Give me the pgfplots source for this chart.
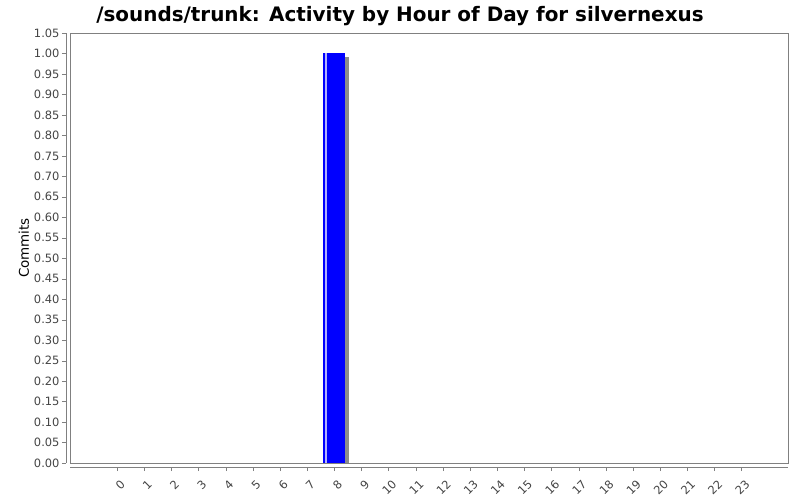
\documentclass[border=0pt]{standalone}
\usepackage{fontspec}
\setmainfont{DejaVu Sans}
\usepackage{pgfplots}
\pgfplotsset{compat=1.18}
\definecolor{axgray}{RGB}{128,128,128}
\definecolor{shadowgray}{RGB}{140,140,140}
\definecolor{txt}{RGB}{68,68,68}
\begin{document}
\begin{tikzpicture}
\useasboundingbox (-70bp,-37bp) rectangle (730bp,463bp);
\begin{axis}[
  name=ax,
  at={(0,0)}, anchor=south west,
  scale only axis,
  width=718bp, height=430bp,
  xmin=-1.73, xmax=24.71,
  ymin=0, ymax=1.05,
  axis line style={axgray},
  xtick={0,...,23},
  ytick={0,0.05,...,1.051},
  tick align=outside,
  major tick length=4bp,
  xtick pos=bottom, ytick pos=left,
  xtick style={axgray, yshift=-4bp},
  ytick style={axgray, xshift=-4bp},
  yticklabel style={font=\fontsize{11.5}{12}\selectfont, text=txt, xshift=-3bp},
  xticklabel style={font=\fontsize{11.5}{12}\selectfont, text=txt, rotate=45, anchor=north east, yshift=-7bp, xshift=-3bp},
  /pgf/number format/assume math mode=true,
  yticklabel={\pgfmathprintnumber[fixed,fixed zerofill,precision=2]{\tick}},
  ylabel={Commits},
  ylabel style={font=\fontsize{13.5}{14}\selectfont, text=black, xshift=0bp, yshift=-2bp},
  title={/sounds/trunk: Activity by Hour of Day for silvernexus},
  title style={font=\bfseries\fontsize{20}{21}\selectfont, xshift=-29bp, yshift=-2bp},
  clip=true,
]
\addplot[ybar, bar width=0.81, bar shift=0.147, fill=shadowgray, draw=none] coordinates {(8,0.991)};
\addplot[ybar, bar width=0.81, bar shift=0, fill=blue, draw=none] coordinates {(8,1)};
\addplot[ybar, bar width=0.075, bar shift=-0.32, fill=white!70!blue, draw=none] coordinates {(8,1)};
\end{axis}
\draw[axgray] ([xshift=-4bp]ax.south west) -- ([xshift=-4bp]ax.north west);
\draw[axgray] ([yshift=-4bp]ax.south west) -- ([yshift=-4bp]ax.south east);
\end{tikzpicture}
\end{document}
